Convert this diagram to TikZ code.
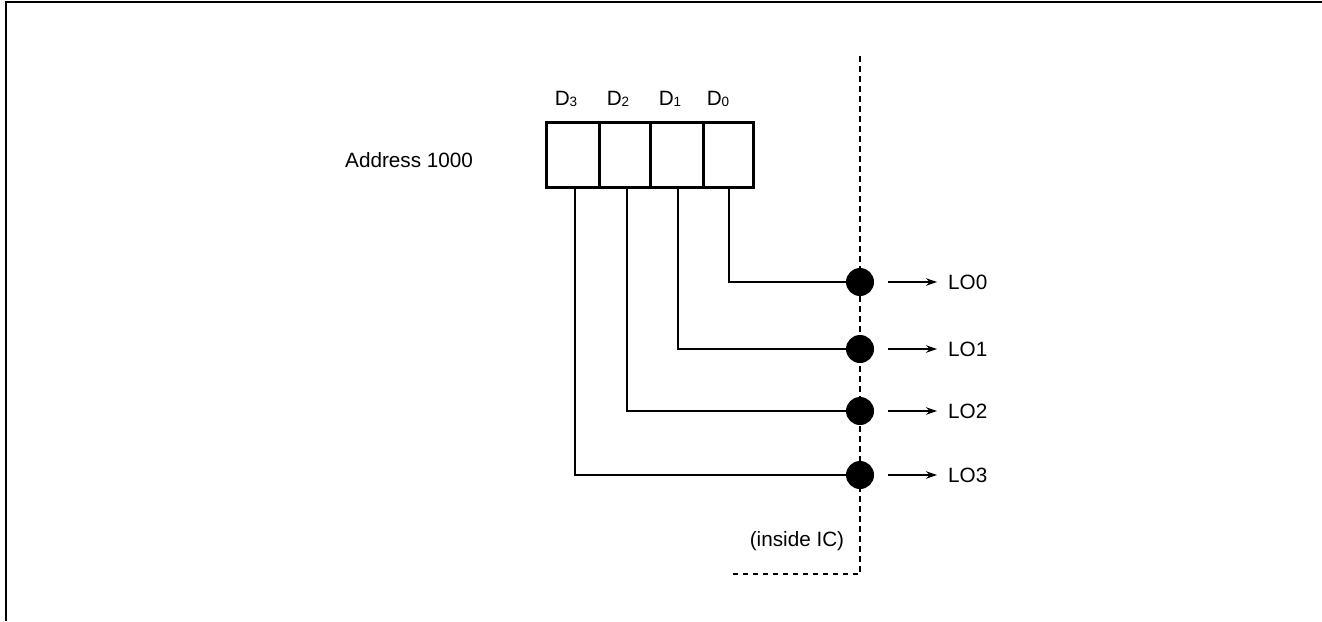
\documentclass[tikz,border=0pt]{standalone}
\usepackage{fontspec}
\setmainfont{Liberation Sans}
\usetikzlibrary{arrows.meta}
\begin{document}
\begin{tikzpicture}[x=1pt,y=-1pt,
  txt/.style={font=\fontsize{20.7}{24}\selectfont, inner sep=0pt},
  cell/.style={draw, line width=3pt, minimum width=52pt, minimum height=65pt, inner sep=0pt},
  wire/.style={line width=1.3pt},
  dot/.style={circle, fill=black, minimum size=28pt, inner sep=0pt},
  outarrow/.style={line width=1.3pt, -{Stealth[length=11pt,width=7.5pt]}},
  bound/.style={line width=1.4pt, dash pattern=on 5.5pt off 4.5pt}]
\useasboundingbox (0,0) rectangle (1322,621);
\draw[line width=2pt] (6,621) -- (6,2) -- (1322,2);
% register cells
\node[cell, minimum width=53pt] (c3) at (572.5,154.5) {};
\node[cell, minimum width=51pt] (c2) at (624.5,154.5) {};
\node[cell, minimum width=53pt] (c1) at (676.5,154.5) {};
\node[cell, minimum width=50pt] (c0) at (728,154.5) {};
\node[txt] (d3) at (566,99) {D{\fontsize{13.5}{13}\selectfont\raisebox{-0.5pt}{3}}};
\node[txt] (d2) at (618,99) {D{\fontsize{13.5}{13}\selectfont\raisebox{-0.5pt}{2}}};
\node[txt] (d1) at (670,99) {D{\fontsize{13.5}{13}\selectfont\raisebox{-0.5pt}{1}}};
\node[txt] (d0) at (718,99) {D{\fontsize{13.5}{13}\selectfont\raisebox{-0.5pt}{0}}};
\node[txt, anchor=west] (addr) at (345,160) {Address 1000};
% boundary of IC
\coordinate (btop) at (860,56);
\coordinate (bbot) at (860,574);
\coordinate (bleft) at (731,574);
\draw[bound] (btop) -- (bbot) -- (bleft);
\node[txt] (ic) at (797,541) {(inside IC)};
% dots
\node[dot] (p0) at (860,282) {};
\node[dot] (p1) at (860,349) {};
\node[dot] (p2) at (860,411) {};
\node[dot] (p3) at (860,475) {};
% wires
\draw[wire] ([xshift=1pt]c0.south) |- (p0.west);
\draw[wire] ([xshift=1.5pt]c1.south) |- (p1.west);
\draw[wire] ([xshift=2.5pt]c2.south) |- (p2.west);
\draw[wire] ([xshift=2.5pt]c3.south) |- (p3.west);
% outputs
\node[txt, anchor=west] (lo0) at (948,282) {LO0};
\node[txt, anchor=west] (lo1) at (948,349) {LO1};
\node[txt, anchor=west] (lo2) at (948,411) {LO2};
\node[txt, anchor=west] (lo3) at (948,475) {LO3};
\foreach \i in {0,1,2,3}{
  \draw[outarrow] ([xshift=14pt]p\i.east) -- ([xshift=-11pt]lo\i.west);
}
\end{tikzpicture}
\end{document}
